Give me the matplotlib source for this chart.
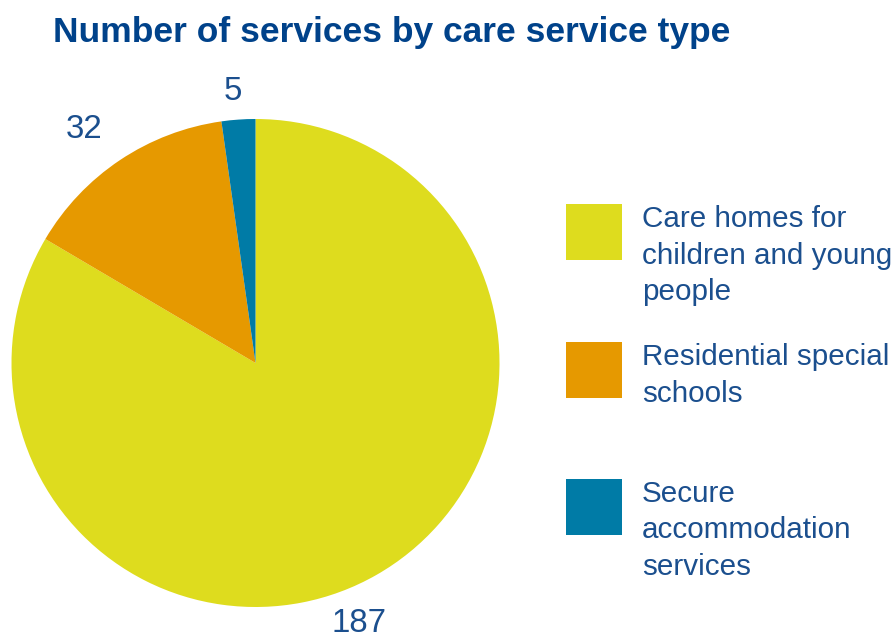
import matplotlib
matplotlib.use("Agg")
import matplotlib.pyplot as plt
from matplotlib.patches import Rectangle

# Data
categories = [
    "Care homes for\nchildren and young\npeople",
    "Residential special\nschools",
    "Secure\naccommodation\nservices",
]
counts = [187, 32, 5]
colors = ["#dedc1e", "#e69900", "#007ba6"]
title = "Number of services by care service type"

W, H = 895, 639
DPI = 100
TITLE_COLOR = "#00428a"
TEXT_COLOR = "#1b4f8e"

REGULAR = dict(family=["Liberation Sans", "DejaVu Sans"], weight="normal")
BOLD = dict(family=["Liberation Sans", "DejaVu Sans"], weight="bold")

fig = plt.figure(figsize=(W / DPI, H / DPI), dpi=DPI)
fig.patch.set_facecolor("white")


def fx(px):
    return px / W


def fy(py):
    return (H - py) / H


# Pie axes: centre (255.5, 363) px, radius 244 px
cx, cy, r = 255.5, 363.0, 244.0
ax = fig.add_axes([fx(cx - r), fy(cy + r), 2 * r / W, 2 * r / H])
wedges, _ = ax.pie(counts, colors=colors, startangle=90, counterclock=False,
                   radius=1.0, wedgeprops=dict(linewidth=0))
ax.set_xlim(-1, 1)
ax.set_ylim(-1, 1)
ax.set_aspect("equal")
ax.axis("off")

renderer = fig.canvas.get_renderer()


def fit_size(text, target_px, props, base=20):
    t = fig.text(0, 0, text, fontsize=base, **props)
    w = t.get_window_extent(renderer).width
    t.remove()
    return base * target_px / w


# Title
title_size = fit_size(title, 676, BOLD)
fig.text(fx(53), fy(42), title, fontsize=title_size, color=TITLE_COLOR,
         ha="left", va="baseline", **BOLD)

# Value labels around the pie (pixel positions of centre/baseline)
num_size = fit_size("187", 55, REGULAR)
label_pos = [(359.5, 632), (84, 138), (232.5, 100)]
for val, (px, py) in zip(counts, label_pos):
    ax.text((px - cx) / r, (cy - py) / r, str(val), fontsize=num_size,
            color=TEXT_COLOR, ha="center", va="baseline", **REGULAR)

# Legend
leg_size = fit_size("children and young", 250, REGULAR)
square_tops = [204, 342, 479]
line_gap = 36.7
for label, col, top in zip(categories, colors, square_tops):
    fig.add_artist(Rectangle((fx(566), fy(top + 56)), 56 / W, 56 / H,
                             transform=fig.transFigure, facecolor=col,
                             edgecolor="none"))
    for i, line in enumerate(label.split("\n")):
        fig.text(fx(642), fy(top + 22.8 + i * line_gap), line,
                 fontsize=leg_size, color=TEXT_COLOR, ha="left",
                 va="baseline", **REGULAR)

fig.savefig("out.png", dpi=DPI, facecolor="white")
